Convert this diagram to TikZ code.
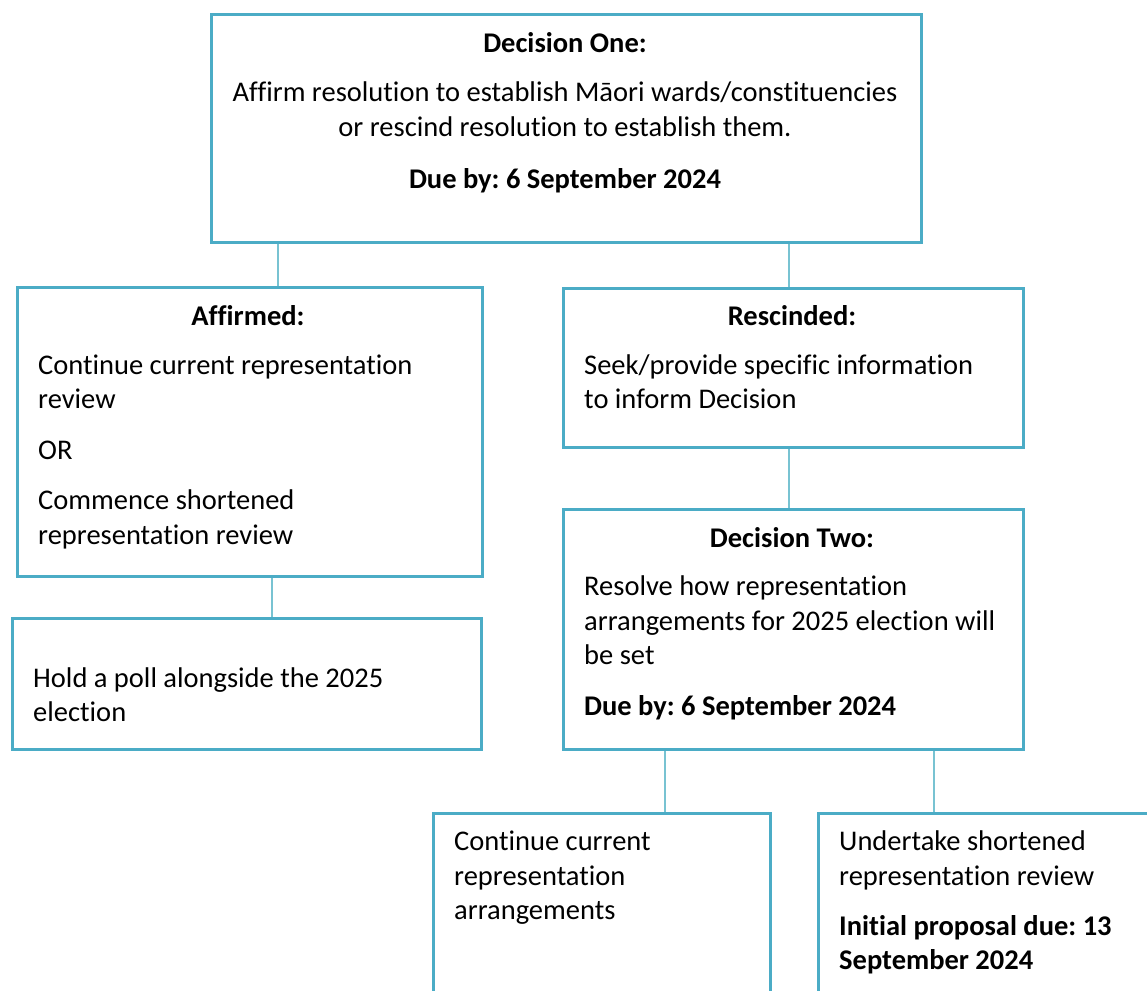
\documentclass[tikz,border=0pt]{standalone}
\usepackage{fontspec}
\setmainfont{Carlito}[Ligatures=NoCommon]
\frenchspacing
\definecolor{teal1}{HTML}{4BACC6}
\definecolor{teal2}{HTML}{78C3D2}
\begin{document}
\begin{tikzpicture}[x=1pt,y=-1pt,
  box/.style={draw=teal1,line width=3pt,inner sep=0pt,anchor=north west},
  conn/.style={draw=teal2,line width=1.6pt},
  txt/.style={anchor=mid west,inner sep=0pt,yshift=-5pt,font=\fontsize{28.5}{33}\selectfont},
  ctxt/.style={anchor=mid,inner sep=0pt,yshift=-5pt,font=\fontsize{28.5}{33}\selectfont},
  btxt/.style={txt,font=\fontsize{28.5}{33}\selectfont\bfseries},
  bctxt/.style={ctxt,font=\fontsize{28.5}{33}\selectfont\bfseries}]
\useasboundingbox (0,0) rectangle (1147,990);
\clip (0,0) rectangle (1147,990);
% boxes
\node[box,minimum width=710pt,minimum height=228pt] (one) at (210,13) {};
\node[box,minimum width=465pt,minimum height=289pt] (aff) at (16,286) {};
\node[box,minimum width=460pt,minimum height=159pt] (res) at (562,287) {};
\node[box,minimum width=469pt,minimum height=131pt] (poll) at (11,617) {};
\node[box,minimum width=460pt,minimum height=240pt] (two) at (562,508) {};
\node[box,minimum width=337pt,minimum height=220pt] (cont) at (432,812) {};
\node[box,minimum width=360pt,minimum height=220pt] (und) at (817,812) {};
% connectors
\draw[conn] (one.south -| 278,0) -- (aff.north -| 278,0);
\draw[conn] (one.south -| 789,0) -- (res.north -| 789,0);
\draw[conn] (aff.south -| 272,0) -- (poll.north -| 272,0);
\draw[conn] (res.south -| 789,0) -- (two.north -| 789,0);
\draw[conn] (two.south -| 665,0) -- (cont.north -| 665,0);
\draw[conn] (two.south -| 934,0) -- (und.north -| 934,0);
% texts top
\node[bctxt] (t1) at (565,45) {Decision One:};
\node[ctxt] (t2) at (565,94) {Affirm resolution to establish Māori wards/constituencies};
\node[ctxt] (t3) at (565,129) {or rescind resolution to establish them.};
\node[bctxt] (t4) at (565,181) {Due by: 6 September 2024};
% affirmed
\node[bctxt] (a1) at (248,318) {Affirmed:};
\node[txt] (a2) at (38,367) {Continue current representation};
\node[txt] (a3) at (38,401) {review};
\node[txt] (a4) at (38,452) {OR};
\node[txt] (a5) at (38,502) {Commence shortened};
\node[txt] (a6) at (38,537) {representation review};
% rescinded
\node[bctxt] (r1) at (792,318) {Rescinded:};
\node[txt] (r2) at (584,367) {Seek/provide specific information};
\node[txt] (r3) at (584,401) {to inform Decision};
% poll
\node[txt] (p1) at (33,680) {Hold a poll alongside the 2025};
\node[txt] (p2) at (33,714) {election};
% decision two
\node[bctxt] (d1) at (792,540) {Decision Two:};
\node[txt] (d2) at (584,588) {Resolve how representation};
\node[txt] (d3) at (584,623) {arrangements for 2025 election will};
\node[txt] (d4) at (584,657) {be set};
\node[btxt] (d5) at (584,708) {Due by: 6 September 2024};
% continue
\node[txt] (c1) at (454,843) {Continue current};
\node[txt] (c2) at (454,878) {representation};
\node[txt] (c3) at (454,912) {arrangements};
% undertake
\node[txt] (u1) at (839,843) {Undertake shortened};
\node[txt] (u2) at (839,878) {representation review};
\node[btxt] (u3) at (839,928) {Initial proposal due: 13};
\node[btxt] (u4) at (839,962) {September 2024};
\end{tikzpicture}
\end{document}
